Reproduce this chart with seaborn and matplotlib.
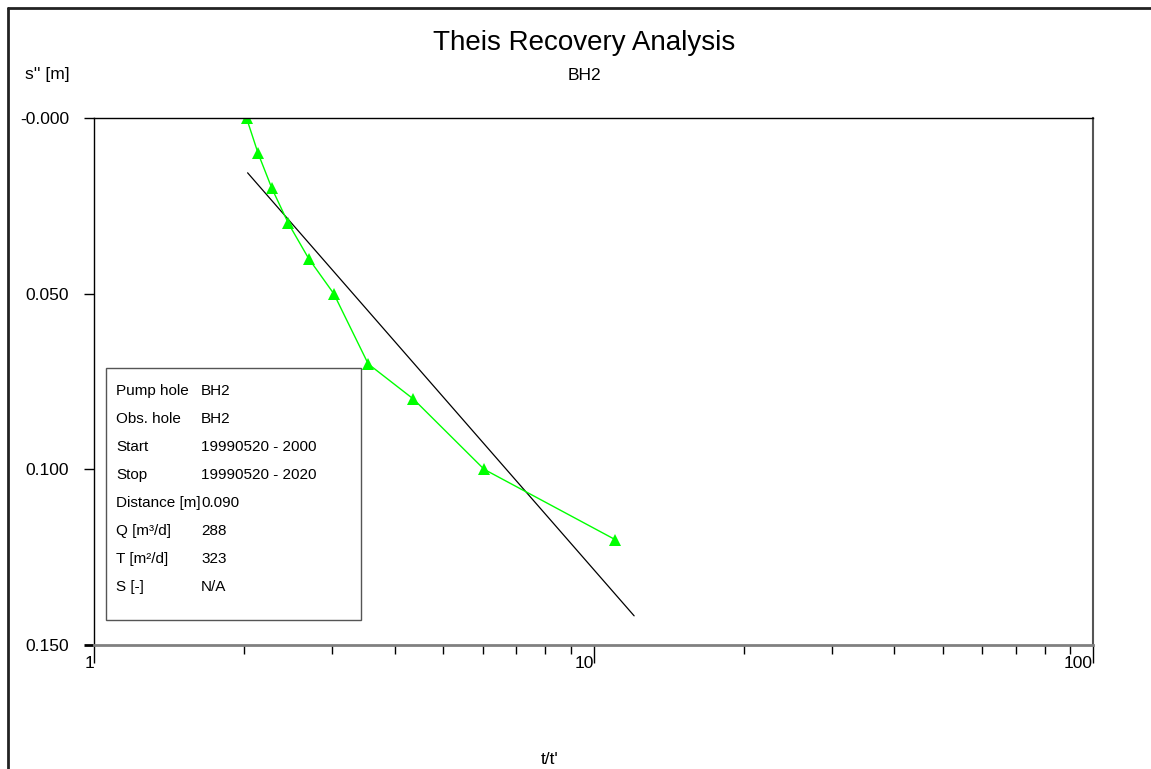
import numpy as np
import pandas as pd
import matplotlib
matplotlib.use("Agg")
import matplotlib.pyplot as plt
import seaborn as sns
from matplotlib.lines import Line2D
from matplotlib.patches import Rectangle
from matplotlib.ticker import LogLocator, NullFormatter

# ---------------- data ----------------
t_ratio = [2.02, 2.13, 2.27, 2.45, 2.69, 3.02, 3.54, 4.36, 6.04, 11.05]
drawdown = [0.000, 0.010, 0.020, 0.030, 0.040, 0.050, 0.070, 0.080, 0.100, 0.120]
fit_t = [2.03, 12.06]
fit_s = [0.0156, 0.1417]
y_ticks = [0.0, 0.05, 0.10, 0.15]
y_tick_labels = ["-0.000", "0.050", "0.100", "0.150"]
x_ticks = [1, 10, 100]
x_tick_labels = ["1", "10", "100"]
info_labels = ["Pump hole", "Obs. hole", "Start", "Stop", "Distance [m]",
               "Q [m³/d]", "T [m²/d]", "S [-]"]
info_values = ["BH2", "BH2", "19990520 - 2000", "19990520 - 2020", "0.090",
               "288", "323", "N/A"]
title = "Theis Recovery Analysis"
subtitle = "BH2"

# ---------------- style ----------------
sns.set_style("white")
plt.rcParams["font.family"] = ["Liberation Sans", "DejaVu Sans"]
plt.rcParams["text.color"] = "black"
plt.rcParams["xtick.color"] = "black"
plt.rcParams["ytick.color"] = "black"
plt.rcParams["xtick.labelcolor"] = "black"
plt.rcParams["ytick.labelcolor"] = "black"

W, H = 1151, 769
fig = plt.figure(figsize=(W / 100, H / 100), dpi=100)
fig.patch.set_facecolor("white")

def fx(px):
    return px / W

def fy(py):
    return 1 - py / H

ax = fig.add_axes([fx(94), fy(645), fx(1093) - fx(94), fy(118) - fy(645)])
ax.set_facecolor("white")

obs = pd.DataFrame({"t": t_ratio, "s": drawdown})
fit = pd.DataFrame({"t": fit_t, "s": fit_s})

sns.lineplot(data=fit, x="t", y="s", ax=ax, color="black", lw=0.9,
             sort=False, estimator=None)
sns.lineplot(data=obs, x="t", y="s", ax=ax, color="#00ff00", lw=1.0,
             marker="^", markersize=8, markeredgewidth=0,
             markerfacecolor="#00ff00", sort=False, estimator=None)

ax.set_xscale("log")
ax.set_xlim(1, 100)
ax.set_ylim(0.15, 0.0)
ax.set_xlabel("")
ax.set_ylabel("")

# y ticks
ax.set_yticks(y_ticks)
ax.set_yticklabels(y_tick_labels)
ax.tick_params(axis="y", which="major", direction="out", length=7.5, width=1,
               pad=10.5, labelsize=12.5, color="black", labelcolor="black", left=True)

# x ticks
ax.set_xticks(x_ticks)
ax.set_xticklabels(x_tick_labels)
ax.xaxis.set_minor_locator(LogLocator(base=10, subs=np.arange(2, 10)))
ax.xaxis.set_minor_formatter(NullFormatter())
ax.tick_params(axis="x", which="major", direction="out", length=13, width=1,
               pad=-5, labelsize=12.5, color="black", labelcolor="black", bottom=True)
ax.tick_params(axis="x", which="minor", direction="out", length=6.5, width=1,
               color="black", bottom=True)
for lab in ax.get_xticklabels():
    lab.set_horizontalalignment("right")
    lab.set_fontfamily(["Liberation Sans Narrow", "Liberation Sans", "DejaVu Sans"])

# gray tick at 0.150 to match bottom axis
ax.yaxis.get_major_ticks()[-1].tick1line.set_color("#808080")
ax.yaxis.get_major_ticks()[-1].tick1line.set_markeredgewidth(2)

# spines
for side in ["top", "left", "right", "bottom"]:
    ax.spines[side].set_visible(True)
ax.spines["top"].set_color("black")
ax.spines["top"].set_linewidth(1.0)
ax.spines["left"].set_color("black")
ax.spines["left"].set_linewidth(1.0)
ax.spines["right"].set_color("#555555")
ax.spines["right"].set_linewidth(1.5)
ax.spines["bottom"].set_color("#808080")
ax.spines["bottom"].set_linewidth(2.0)
ax.grid(False)

# texts
fig.text(fx(584), fy(43), title, ha="center", va="center", fontsize=20, color="black")
fig.text(fx(584), fy(75), subtitle, ha="center", va="center", fontsize=12.5, color="black")
fig.text(fx(25), fy(75), "s'' [m]", ha="left", va="center", fontsize=12.5, color="black")
fig.text(fx(550), fy(760), "t/t'", ha="center", va="center", fontsize=12.5, color="black",
         family=["Liberation Sans Narrow", "Liberation Sans", "DejaVu Sans"])

# info box
fig.add_artist(Rectangle((fx(106), fy(620)), fx(361) - fx(106), fy(368) - fy(620),
                         transform=fig.transFigure, facecolor="white",
                         edgecolor="#555555", lw=1.0, zorder=5))
for i, (lab, val) in enumerate(zip(info_labels, info_values)):
    yy = fy(391 + 28 * i)
    fig.text(fx(116), yy, lab, ha="left", va="center", fontsize=11, zorder=6, color="black")
    fig.text(fx(201), yy, val, ha="left", va="center", fontsize=11, zorder=6, color="black")

# outer frame
fig.add_artist(Line2D([fx(8), fx(8)], [fy(8), 0], transform=fig.transFigure,
                      color="#222222", lw=2))
fig.add_artist(Line2D([fx(8), 1], [fy(8), fy(8)], transform=fig.transFigure,
                      color="#222222", lw=2))

fig.savefig("out.png", dpi=100, facecolor="white")
